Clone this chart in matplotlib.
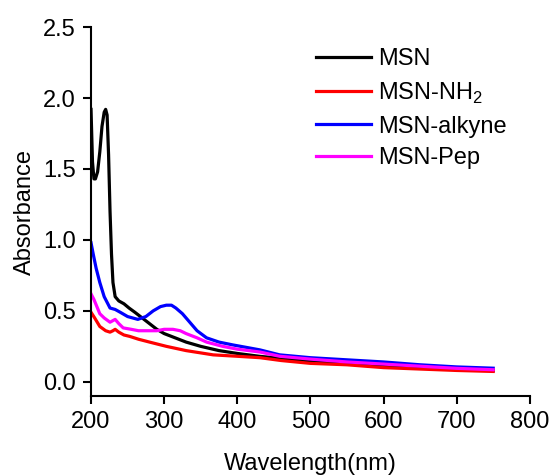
import matplotlib.pyplot as plt

plt.rcParams['font.family'] = ['Liberation Sans', 'DejaVu Sans']
plt.rcParams['mathtext.fontset'] = 'custom'
plt.rcParams['mathtext.rm'] = 'Liberation Sans'

# wavelengths (nm) and absorbance
wl_msn = [200, 202, 204, 206, 209, 212, 215, 218, 220, 222, 224, 226, 228, 230, 233,
          238, 245, 252, 260, 270, 280, 290, 300, 315, 330, 350, 375, 400, 430, 470,
          520, 570, 620, 670, 720, 750]
abs_msn = [1.92, 1.55, 1.43, 1.43, 1.48, 1.62, 1.80, 1.90, 1.92, 1.88, 1.60, 1.20, 0.90, 0.70, 0.60,
           0.57, 0.55, 0.52, 0.49, 0.45, 0.41, 0.37, 0.34, 0.31, 0.28, 0.25, 0.22, 0.20, 0.18, 0.16,
           0.14, 0.12, 0.11, 0.10, 0.085, 0.08]

wl_nh2 = [200, 205, 212, 220, 226, 230, 233, 238, 245, 253, 265, 280, 303, 330, 367, 400,
          431, 460, 500, 550, 600, 650, 700, 750]
abs_nh2 = [0.49, 0.45, 0.39, 0.36, 0.35, 0.36, 0.37, 0.35, 0.33, 0.32, 0.30, 0.28, 0.25, 0.22, 0.19, 0.18,
           0.17, 0.15, 0.13, 0.12, 0.10, 0.09, 0.08, 0.073]

wl_alk = [200, 203, 207, 212, 218, 226, 233, 240, 250, 264, 275, 285, 295, 303, 310, 316,
          325, 335, 345, 358, 375, 394, 431, 458, 500, 550, 600, 650, 700, 750]
abs_alk = [0.98, 0.90, 0.80, 0.70, 0.60, 0.52, 0.51, 0.49, 0.46, 0.44, 0.46, 0.50, 0.53, 0.54, 0.54, 0.52,
           0.48, 0.42, 0.36, 0.31, 0.28, 0.26, 0.225, 0.19, 0.17, 0.155, 0.14, 0.12, 0.105, 0.096]

wl_pep = [200, 204, 208, 212, 218, 226, 233, 238, 244, 255, 265, 276, 290, 300, 312, 322,
          330, 345, 358, 380, 400, 431, 458, 500, 550, 600, 650, 700, 750]
abs_pep = [0.62, 0.58, 0.53, 0.48, 0.45, 0.42, 0.44, 0.41, 0.38, 0.37, 0.36, 0.36, 0.36, 0.37, 0.37, 0.36,
           0.34, 0.31, 0.28, 0.25, 0.23, 0.21, 0.18, 0.16, 0.14, 0.125, 0.11, 0.095, 0.085]

fig = plt.figure(figsize=(5.53, 4.75), dpi=100)
ax = fig.add_axes([0.1646, 0.1663, 0.7934, 0.7767])

lw = 2.3
ax.plot(wl_msn, abs_msn, color='black', lw=lw, label='MSN')
ax.plot(wl_nh2, abs_nh2, color='#ff0000', lw=lw, label='MSN-NH$_2$')
ax.plot(wl_alk, abs_alk, color='#0000ff', lw=lw, label='MSN-alkyne')
ax.plot(wl_pep, abs_pep, color='#ff00ff', lw=lw, label='MSN-Pep')

ax.set_xlim(200, 800)
ax.set_ylim(-0.1, 2.5)
ax.set_xticks([200, 300, 400, 500, 600, 700, 800])
ax.set_yticks([0.0, 0.5, 1.0, 1.5, 2.0, 2.5])
ax.yaxis.set_major_formatter(plt.FormatStrFormatter('%.1f'))

for s in ['top', 'right']:
    ax.spines[s].set_visible(False)
for s in ['left', 'bottom']:
    ax.spines[s].set_linewidth(1.5)
ax.tick_params(direction='out', length=6, width=1.5, labelsize=17, pad=5)

ax.set_xlabel('Wavelength(nm)', fontsize=17, labelpad=14)
ax.set_ylabel('Absorbance', fontsize=17, labelpad=5)

ax.legend(loc='upper left', bbox_to_anchor=(0.512, 0.942), frameon=False, fontsize=17,
          borderaxespad=0, borderpad=0, handlelength=2.35, handletextpad=0.3,
          labelspacing=0.42)

fig.savefig('out.png', dpi=100)
